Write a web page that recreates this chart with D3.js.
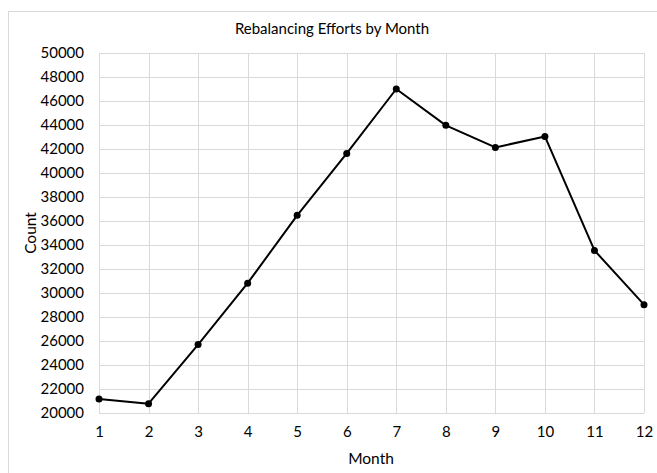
<!DOCTYPE html>
<html lang="en">

<head>
    <meta charset="UTF-8">
    <title>Rebalancing Efforts by Month</title>
    <style>
        body { margin: 0; background: #fff; }
        text { font-family: Lato, 'Open Sans', sans-serif; fill: #000; }
    </style>
</head>

<body>
    <script src="https://cdn.jsdelivr.net/npm/d3@7"></script>
    <script>
        const months = [1, 2, 3, 4, 5, 6, 7, 8, 9, 10, 11, 12];
        const counts = [21170, 20780, 25700, 30820, 36470, 41630, 47000, 43970, 42130, 43050, 33550, 29030];
        const yTicks = d3.range(20000, 50001, 2000);

        const w = 657;
        const h = 473;
        const margin = { top: 53, right: 13, bottom: 60, left: 99 };

        const svg = d3.select('body')
            .append('svg')
            .attr('width', w)
            .attr('height', h);

        // chart frame, runs off the right/bottom edge like the screenshot
        svg.append('rect')
            .attr('x', 8.5).attr('y', 11.5)
            .attr('width', 700).attr('height', 500)
            .attr('fill', 'none')
            .attr('stroke', '#d9d9d9');

        const xScale = d3.scaleLinear()
            .domain([1, 12])
            .range([margin.left, w - margin.right]);

        const yScale = d3.scaleLinear()
            .domain([20000, 50000])
            .range([h - margin.bottom, margin.top]);

        // grid
        svg.append('g')
            .selectAll('line')
            .data(yTicks)
            .enter()
            .append('line')
            .attr('x1', margin.left).attr('x2', w - margin.right)
            .attr('y1', (d) => Math.round(yScale(d)) + 0.5)
            .attr('y2', (d) => Math.round(yScale(d)) + 0.5)
            .attr('stroke', '#d9d9d9');

        svg.append('g')
            .selectAll('line')
            .data(months)
            .enter()
            .append('line')
            .attr('y1', margin.top).attr('y2', h - margin.bottom)
            .attr('x1', (d) => Math.round(xScale(d)) + 0.5)
            .attr('x2', (d) => Math.round(xScale(d)) + 0.5)
            .attr('stroke', '#d9d9d9');

        // axes (labels only, Excel style)
        const yAxis = svg.append('g')
            .attr('transform', `translate(${margin.left - 15},0)`)
            .call(d3.axisLeft(yScale).tickValues(yTicks).tickFormat(d3.format('d')).tickSize(0).tickPadding(0));
        yAxis.select('.domain').remove();
        yAxis.selectAll('text')
            .attr('font-size', '15px')
            .attr('font-family', 'Lato, sans-serif')
            .attr('fill', '#000');

        const xAxis = svg.append('g')
            .attr('transform', `translate(0,${h - margin.bottom + 13})`)
            .call(d3.axisBottom(xScale).tickValues(months).tickFormat(d3.format('d')).tickSize(0).tickPadding(0));
        xAxis.select('.domain').remove();
        xAxis.selectAll('text')
            .attr('font-size', '15px')
            .attr('font-family', 'Lato, sans-serif')
            .attr('fill', '#000');

        // line + markers
        const line = d3.line()
            .x((d, i) => xScale(months[i]))
            .y((d) => yScale(d));

        svg.append('path')
            .datum(counts)
            .attr('d', line)
            .attr('fill', 'none')
            .attr('stroke', '#000')
            .attr('stroke-width', 2)
            .attr('stroke-linejoin', 'round');

        svg.selectAll('circle')
            .data(counts)
            .enter()
            .append('circle')
            .attr('cx', (d, i) => xScale(months[i]))
            .attr('cy', (d) => yScale(d))
            .attr('r', 3.5)
            .attr('fill', '#000');

        // titles
        svg.append('text')
            .text('Rebalancing Efforts by Month')
            .attr('x', 332).attr('y', 34)
            .attr('text-anchor', 'middle')
            .attr('font-size', '15px');

        svg.append('text')
            .text('Month')
            .attr('x', 371).attr('y', 464)
            .attr('text-anchor', 'middle')
            .attr('font-size', '15.5px');

        svg.append('text')
            .text('Count')
            .attr('transform', 'translate(36,233) rotate(-90)')
            .attr('text-anchor', 'middle')
            .attr('font-size', '15.5px');
    </script>
</body>

</html>
